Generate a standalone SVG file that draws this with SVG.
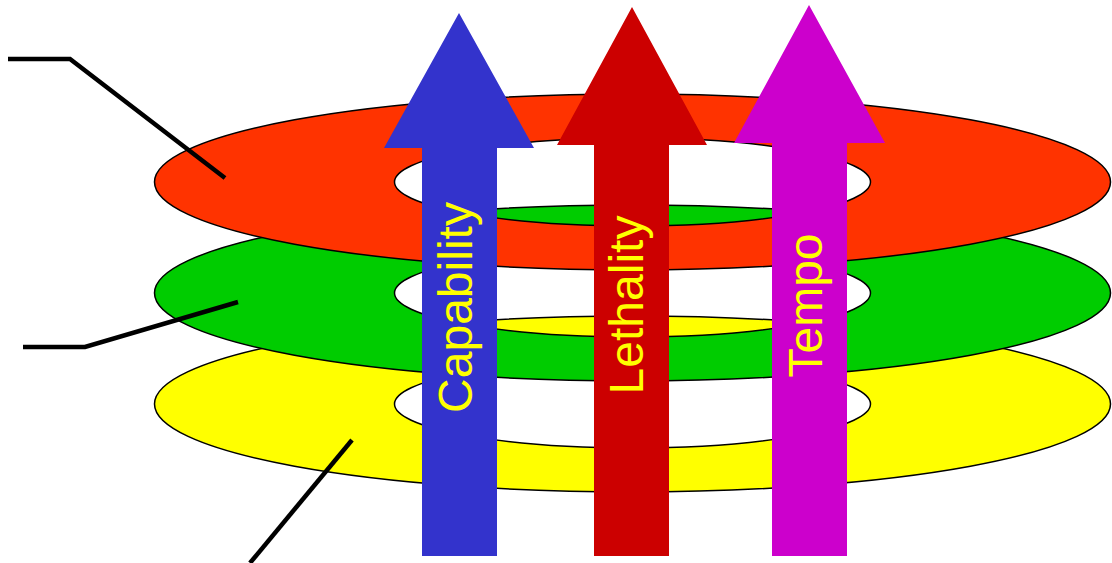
<svg xmlns="http://www.w3.org/2000/svg" width="1112" height="563" viewBox="0 0 1112 563">
<style>
.ring{stroke:#000;stroke-width:1.5;fill-rule:evenodd}
.lbl{font-family:"Liberation Sans",Arial,sans-serif;font-size:48px;fill:#FFFF00;text-anchor:middle}
.lead{fill:none;stroke:#000;stroke-width:4.5;stroke-linejoin:miter}
</style>
<rect width="1112" height="563" fill="#fff"/>
<g id="ring-yellow"><path class="ring" fill="#FFFF00" d="M154.5,404 a478,88 0 1,0 956,0 a478,88 0 1,0 -956,0 Z M394.5,404 a238,44 0 1,0 476,0 a238,44 0 1,0 -476,0 Z"/></g>
<g id="ring-green"><path class="ring" fill="#00CC00" d="M154.5,293 a478,88 0 1,0 956,0 a478,88 0 1,0 -956,0 Z M394.5,293 a238,44 0 1,0 476,0 a238,44 0 1,0 -476,0 Z"/></g>
<g id="ring-red"><path class="ring" fill="#FF3300" d="M154.5,182 a478,88 0 1,0 956,0 a478,88 0 1,0 -956,0 Z M394.5,182 a238,44 0 1,0 476,0 a238,44 0 1,0 -476,0 Z"/></g>
<g id="arrow-capability">
<polygon fill="#3333CC" points="459,13 534,148 497,148 497,556 422,556 422,148 384,148"/>
<text class="lbl" transform="translate(472,307.5) rotate(-90)">Capability</text>
</g>
<g id="arrow-lethality">
<polygon fill="#CC0000" points="632,7 707,145 669,145 669,556 594,556 594,145 557,145"/>
<text class="lbl" transform="translate(643,305) rotate(-90)">Lethality</text>
</g>
<g id="arrow-tempo">
<polygon fill="#CC00CC" points="809,5 885,143 847,143 847,556 772,556 772,143 734,143"/>
<text class="lbl" transform="translate(822,305.5) rotate(-90)">Tempo</text>
</g>
<g id="connectors">
<polyline class="lead" points="8,59 70,59 225,178"/>
<polyline class="lead" points="23,347 85,347 238,302"/>
<polyline class="lead" points="352,440 250,563"/>
</g>
</svg>
